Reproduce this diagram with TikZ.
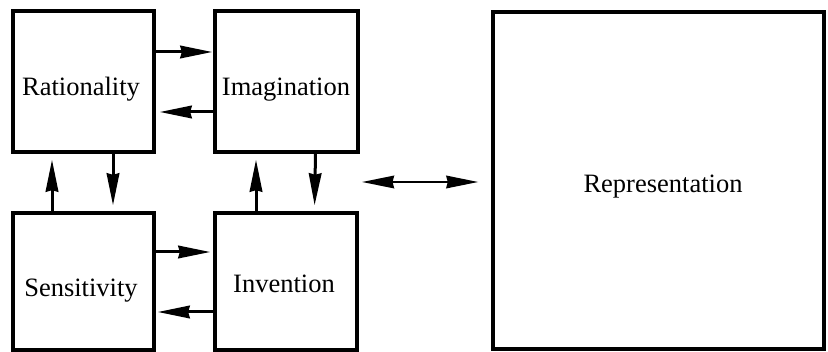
\documentclass[tikz,border=0pt]{standalone}
\usepackage{fontspec}
\setmainfont{Liberation Serif}
\usetikzlibrary{arrows.meta}
\begin{document}
\begin{tikzpicture}[x=1pt,y=-1pt,
  box/.style={draw, line width=3.4pt, rectangle, inner sep=0pt},
  lbl/.style={anchor=base, inner sep=0pt, font=\fontsize{26.5}{30}\selectfont},
  head/.tip={Stealth[length=32pt,width=12.5pt,inset=1.5pt]},
  link/.style={line width=3pt, -head},
  dlink/.style={line width=2.4pt, head-head}]
\useasboundingbox (0,0) rectangle (828,352);

% faculty boxes
\node[box, minimum width=141pt, minimum height=141pt] (rat) at (83.5,81.5) {};
\node[box, minimum width=143pt, minimum height=141pt] (img) at (286.5,81.5) {};
\node[box, minimum width=141pt, minimum height=137pt] (sen) at (83.5,281.5) {};
\node[box, minimum width=142pt, minimum height=137pt] (inv) at (286,281.5) {};
\node[box, minimum width=331pt, minimum height=337pt] (rep) at (658.5,180.5) {};

% labels
\node[lbl] (tRat) at (81,96) {Rationality};
\node[lbl] (tImg) at (286,96) {Imagination};
\node[lbl] (tSen) at (81,296.7) {Sensitivity};
\node[lbl] (tInv) at (284,293) {Invention};
\node[lbl] (tRep) at (663,192.7) {Representation};

% horizontal exchanges
\draw[link, shorten >=1pt] ([yshift=29.5pt]rat.east) -- ([yshift=29.5pt]img.west);
\draw[link, shorten >=4pt] ([yshift=-30.5pt]img.west) -- ([yshift=-30.5pt]rat.east);
\draw[link, shorten >=3pt] ([yshift=29.5pt]sen.east) -- ([yshift=29.5pt]inv.west);
\draw[link, shorten >=2pt] ([yshift=-30.5pt]inv.west) -- ([yshift=-30.5pt]sen.east);

% vertical exchanges
\draw[link, shorten >=6pt] ([xshift=29.5pt]rat.south) -- ([xshift=29.5pt]sen.north);
\draw[link, shorten >=6pt] ([xshift=-31.5pt]sen.north) -- ([xshift=-31.5pt]rat.south);
\draw[link, shorten >=6pt] ([xshift=-30pt]inv.north) -- ([xshift=-30.5pt]img.south);
\draw[link, shorten >=6pt] ([xshift=29pt]img.south) -- ([xshift=28.5pt]inv.north);

% two-way link to representation
\coordinate (mid) at (362,182);
\draw[dlink, shorten >=13pt] (mid) -- ([yshift=-1.5pt]rep.west);
\end{tikzpicture}
\end{document}
